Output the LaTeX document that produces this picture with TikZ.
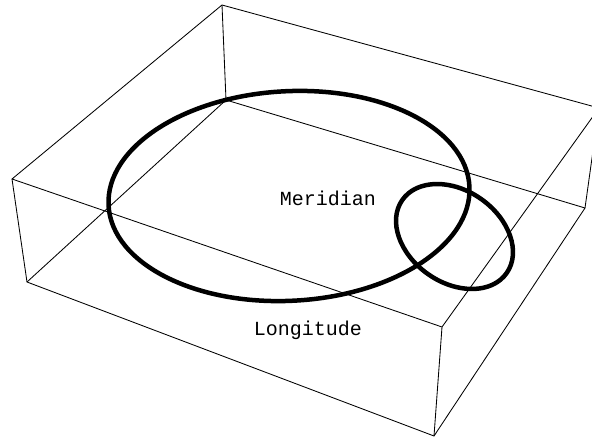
\documentclass[tikz,border=0pt]{standalone}
\usepackage{fontspec}
\setmonofont{Liberation Mono}
\usetikzlibrary{calc}
\tikzset{
    boxedge/.style={line width=0.85pt, line join=round},
    loopcurve/.style={line width=4.5pt},
    curvelabel/.style={font=\ttfamily\fontsize{20}{24}\selectfont, inner sep=0pt, anchor=base}
}

\begin{document}
\begin{tikzpicture}[x=1pt, y=-1pt]
    \useasboundingbox (0,0) rectangle (592,438);
    \clip (0,0) rectangle (592,438);

    % corners of the box
    \coordinate (topback) at (222,5);
    \coordinate (topleft) at (12,179);
    \coordinate (topfront) at (442,327);
    \coordinate (topright) at (599,108);
    \coordinate (botback) at (226,100);
    \coordinate (botleft) at (27,282);
    \coordinate (botfront) at (434,436);
    \coordinate (botright) at (585,208);

    \draw[boxedge] (topleft) -- (topback) -- (topright) -- (topfront) -- cycle;
    \draw[boxedge] (botleft) -- (botback) -- (botright) -- (botfront) -- cycle;
    \foreach \side in {left, back, right, front}
        \draw[boxedge] (top\side) -- (bot\side);

    % the two loops
    \draw[loopcurve] (289,196) ellipse [x radius=180.7pt, y radius=104.8pt, rotate=3];
    \draw[loopcurve] (454.5,236.5) ellipse [x radius=63.7pt, y radius=46pt, rotate=-35];

    \node[curvelabel] (meridian) at (328,205.7) {Meridian};
    \node[curvelabel] (longitude) at (308,335.7) {Longitude};
\end{tikzpicture}
\end{document}
